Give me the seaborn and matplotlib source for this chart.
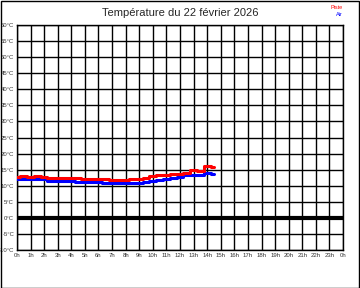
import matplotlib
matplotlib.use("Agg")
import matplotlib.pyplot as plt
import pandas as pd
import seaborn as sns

# relevés toutes les 30 min
heures = [i * 0.5 for i in range(30)]
piste = [12.6, 13.0, 12.6, 13.0, 12.6, 12.3, 12.3, 12.3, 12.3, 12.3,
         12.0, 12.0, 12.0, 12.0, 11.7, 11.7, 11.7, 12.0, 12.0, 12.3,
         12.9, 13.2, 13.2, 13.5, 13.8, 14.1, 15.0, 14.7, 16.0, 15.7]
air = [12.0, 12.0, 12.0, 12.0, 12.0, 11.6, 11.6, 11.6, 11.6, 11.3,
       11.3, 11.3, 11.3, 10.9, 10.9, 10.9, 10.9, 10.9, 10.9, 11.3,
       11.6, 11.9, 12.0, 12.3, 12.6, 13.2, 13.2, 13.2, 14.1, 13.8]
y_ticks = list(range(-10, 65, 5))
x_ticks = list(range(0, 25))
x_labels = [f"{h % 24}h" for h in x_ticks]

df = pd.DataFrame({"heure": heures, "Piste": piste, "Air": air})

sns.set_style("white")
plt.rcParams['font.family'] = ['Liberation Sans', 'DejaVu Sans']

fig = plt.figure(figsize=(3.6, 2.88), dpi=100)
ax = fig.add_axes([0.047, 0.132, 0.906, 0.781])

sns.lineplot(data=df, x="heure", y="Piste", color="#ff0000", lw=2.2,
             drawstyle="steps-mid", ax=ax, zorder=4)
sns.lineplot(data=df, x="heure", y="Air", color="#0000ff", lw=2.2,
             drawstyle="steps-mid", ax=ax, zorder=3)

ax.set_xlim(0, 24)
ax.set_ylim(-10, 60)
ax.set_xticks(x_ticks)
ax.set_xticklabels(x_labels)
ax.set_yticks(y_ticks)
ax.set_yticklabels([f"{v}°C" for v in y_ticks])
ax.tick_params(axis="both", length=0, labelsize=4.3, colors="#333333", pad=2)
ax.set_xlabel("")
ax.set_ylabel("")
ax.grid(True, color="black", lw=1)
ax.axhline(0, color="black", lw=3, zorder=2)
for s in ax.spines.values():
    s.set_color("black")
    s.set_linewidth(1)

fig.text(0.5, 0.955, "Température du 22 février 2026", ha="center", va="center",
         fontsize=8)
fig.text(0.953, 0.975, "Piste", ha="right", va="center", fontsize=4, color="#ff0000")
fig.text(0.953, 0.948, "Air", ha="right", va="center", fontsize=4, color="#0000ff")

fig.patches.append(plt.Rectangle((0.0014, 0.0017), 0.997, 0.996, transform=fig.transFigure,
                                 fill=False, edgecolor="black", lw=1))

fig.savefig("out.png", dpi=100)
